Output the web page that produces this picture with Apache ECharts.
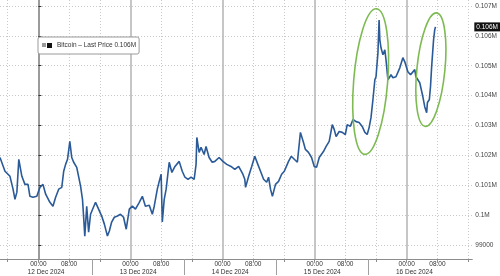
<!DOCTYPE html>
<html><head><meta charset="utf-8">
<script src="https://cdn.jsdelivr.net/npm/echarts@6/dist/echarts.min.js"></script>
<style>html,body{margin:0;padding:0;background:#fff}#c{width:500px;height:276px}</style>
</head><body><div id="c"></div>
<script>
// ---- data (hours since 12 Dec 2024 00:00) ----
const seriesName = 'Bitcoin \u2013 Last Price';
const lastPriceText = '0.106M';
const hours = [
  -10.0,-8.7,-7.4,-6.6,-6.1,-5.6,-5.1,-4.3,-3.5,-2.7,-2.2,-1.4,-0.4,
  0.4,1.2,1.9,3.0,3.8,4.5,5.3,6.1,6.6,7.1,7.6,8.2,8.7,9.2,10.0,10.5,11.0,11.5,11.8,12.1,12.6,13.1,13.6,14.1,14.9,15.7,16.5,17.2,18.0,18.5,19.1,19.8,20.6,21.4,22.2,22.9,23.7,
  24.5,25.3,26.3,27.1,27.9,28.9,29.7,30.2,31.0,31.5,32.0,32.3,32.8,33.3,34.1,34.8,35.6,36.7,37.5,38.2,39.0,39.8,40.6,41.1,41.3,41.9,42.4,43.2,43.7,44.5,45.3,46.0,47.1,
  48.1,49.1,50.2,51.2,52.2,53.3,53.8,54.0,54.8,55.6,56.4,57.2,57.9,58.7,59.5,60.0,60.5,61.0,61.8,62.6,63.4,64.1,65.2,65.9,66.7,67.5,68.3,69.1,69.6,70.4,71.2,71.9,
  72.5,73.2,74.3,75.0,75.8,76.6,77.1,77.6,78.4,79.2,80.0,80.5,81.3,82.0,82.8,83.6,84.4,85.1,85.7,86.2,86.7,87.2,87.7,88.0,88.5,88.8,89.0,89.3,89.8,90.3,90.6,91.1,91.6,91.9,92.4,93.2,94.2,95.0,95.5,
  96.3,97.0,98.1,98.4,99.4,100.2,100.7,101.2,101.4,101.9,102.2,102.5,103.0,103.3,103.5
];
const prices = [
  101930,101470,101300,100870,100530,100770,101870,101300,101030,101030,100630,100600,100630,
  100930,101030,100700,100430,100300,100600,100870,100930,101470,101700,101870,102470,101930,101770,101600,101630,100970,100530,99930,99300,100300,99430,100030,100030,100430,100200,99970,99700,99300,99470,99770,99930,99970,100030,99930,99530,100200,
  100300,100200,100430,100630,100300,100330,100030,100300,100870,101130,101370,99770,100530,100870,101770,101430,101630,101800,101470,101270,101200,101270,101200,101700,102600,102100,102270,102030,102300,101930,101770,101800,101930,
  101800,101700,101630,101530,101630,101370,101200,100930,101300,101630,101970,101700,101470,101200,101100,101270,100870,100630,101030,101130,101370,101470,101800,101970,101870,101770,102770,102430,102200,102100,101930,101630,
  101600,101930,102130,102300,102470,103030,102870,102630,102800,102770,102700,103030,102970,103200,103130,103100,102970,102770,102700,102930,103270,103870,104530,104630,105430,106530,105870,105600,105370,105530,105200,104530,104630,104700,104600,104630,104930,105270,105130,
  104800,104700,104870,104630,104430,103970,103630,103430,103770,103870,104300,104970,105870,106200,106300
];
const yTicks = [99000,100000,101000,102000,103000,104000,105000,106000,107000];
const dayLabels = ['12 Dec 2024','13 Dec 2024','14 Dec 2024','15 Dec 2024','16 Dec 2024'];
const dayStarts = [0,24,48,72,96];
const dayLabelPos = [2,26,50,74,98];
const intradayTicks = [-8,8,16,32,40,56,64,80,88,104,112];
const timeLabelPos = [0,8,24,32,48,56,72,80,96,104];
const timeLabels = ['00:00','08:00','00:00','08:00','00:00','08:00','00:00','08:00','00:00','08:00'];
const separators = [14,38,62,86];
const xRange = [-10, 113.1];
const yRange = [98533, 107200];
// annotation ellipses (data coords of centres)
const ellipseHours = [86.6, 102.3];
const ellipseValues = [104470, 104870];

const font = 'Liberation Sans';
const chart = echarts.init(document.getElementById('c'), null, {renderer:'canvas'});
const data = hours.map((h,i)=>[h, prices[i]]);

function fmtY(v){
  if (yTicks.indexOf(v) < 0) return '';
  return v >= 100000 ? (v/1e6) + 'M' : String(v);
}
function pick(list, labels){
  return v => { let best = 0; list.forEach((p,i)=>{ if (Math.abs(p-v) < Math.abs(list[best]-v)) best = i; }); return labels[best]; };
}

const baseX = {type:'value', min:xRange[0], max:xRange[1], position:'bottom', gridIndex:0};
const dotted = {color:'#c9c9c9', type:[1,2], width:1};
const lbl = {fontFamily:font, fontSize:6.5, color:'#333', hideOverlap:false, showMinLabel:true, showMaxLabel:true};
chart.setOption({
  animation:false,
  backgroundColor:'#fff',
  grid:{left:0, right:25, top:0, bottom:16, containLabel:false},
  legend:{
    left:38, top:37, itemWidth:5, itemHeight:5, icon:'rect',
    backgroundColor:'#fff', borderColor:'#9a9a9a', borderWidth:1, borderRadius:2,
    padding:[5,3,5,9],
    data:[{name:seriesName, itemStyle:{color:'#111'}}],
    formatter: n => n + ' ' + lastPriceText,
    textStyle:{fontFamily:font, fontSize:6.5, color:'#333'}
  },
  xAxis:[
    Object.assign({}, baseX, {
      axisLine:{show:true, lineStyle:{color:'#8c8c8c', width:1}},
      axisTick:{show:true, customValues:intradayTicks, length:3, lineStyle:{color:'#8c8c8c'}},
      splitLine:{show:true, lineStyle:dotted},
      axisLabel:Object.assign({show:true, customValues:timeLabelPos, formatter:pick(timeLabelPos, timeLabels), margin:2}, lbl)
    }),
    Object.assign({}, baseX, {
      axisLine:{show:false},
      axisTick:{show:true, customValues:dayStarts, length:3, lineStyle:{color:'#8c8c8c'}},
      splitLine:{show:true, lineStyle:{color:'#b3b3b3', width:1.5}},
      axisLabel:{show:false}
    }),
    Object.assign({}, baseX, {
      axisLine:{show:false},
      axisTick:{show:true, customValues:separators, length:16, lineStyle:{color:'#a0a0a0', width:1}},
      splitLine:{show:false},
      axisLabel:Object.assign({show:true, customValues:dayLabelPos, formatter:pick(dayLabelPos, dayLabels), margin:10}, lbl)
    })
  ],
  yAxis:{
    type:'value', position:'right', min:yRange[0], max:yRange[1],
    axisLine:{show:true, lineStyle:{color:'#8c8c8c', width:1.5}},
    axisTick:{show:true, customValues:yTicks, length:3, lineStyle:{color:'#333'}},
    minorTick:{show:false},
    splitLine:{show:true, lineStyle:dotted},
    axisLabel:Object.assign({show:true, customValues:yTicks, formatter:fmtY, margin:3}, lbl, {color:'#444'})
  },
  series:[{
    name:seriesName, type:'line', xAxisIndex:0, yAxisIndex:0, data:data,
    showSymbol:false, symbol:'none',
    lineStyle:{color:'#2a5a98', width:1.6},
    itemStyle:{color:'#2a5a98'}
  }]
});

// annotation ellipses + last-price tag, placed through the chart's own coordinate conversion
const ellipseStyle = [{rx:17, ry:73, rot:-0.08}, {rx:14, ry:57, rot:-0.1}];
const graphics = ellipseHours.map((h,i)=>{
  const p = chart.convertToPixel({xAxisIndex:0, yAxisIndex:0}, [h, ellipseValues[i]]);
  return {type:'ellipse', x:p[0], y:p[1], rotation:ellipseStyle[i].rot, silent:true,
    shape:{cx:0, cy:0, rx:ellipseStyle[i].rx, ry:ellipseStyle[i].ry},
    style:{fill:'none', stroke:'#7dbb52', lineWidth:1.6}, z:100};
});
const lastPx = chart.convertToPixel({xAxisIndex:0, yAxisIndex:0}, [xRange[1], prices[prices.length-1]]);
graphics.push({type:'text', x:lastPx[0]+2, y:lastPx[1], z:110, silent:true,
  style:{text:lastPriceText, fill:'#fff', backgroundColor:'#111', padding:[1,2,1,2],
    font:'6.5px "' + font + '"', verticalAlign:'middle', align:'left'}});
// small grey marker before the legend icon
graphics.push({type:'rect', left:42, top:43, shape:{width:4, height:4}, style:{fill:'#9a9a9a'}, z:120, silent:true});
chart.setOption({graphic:graphics});
</script>
</body></html>
